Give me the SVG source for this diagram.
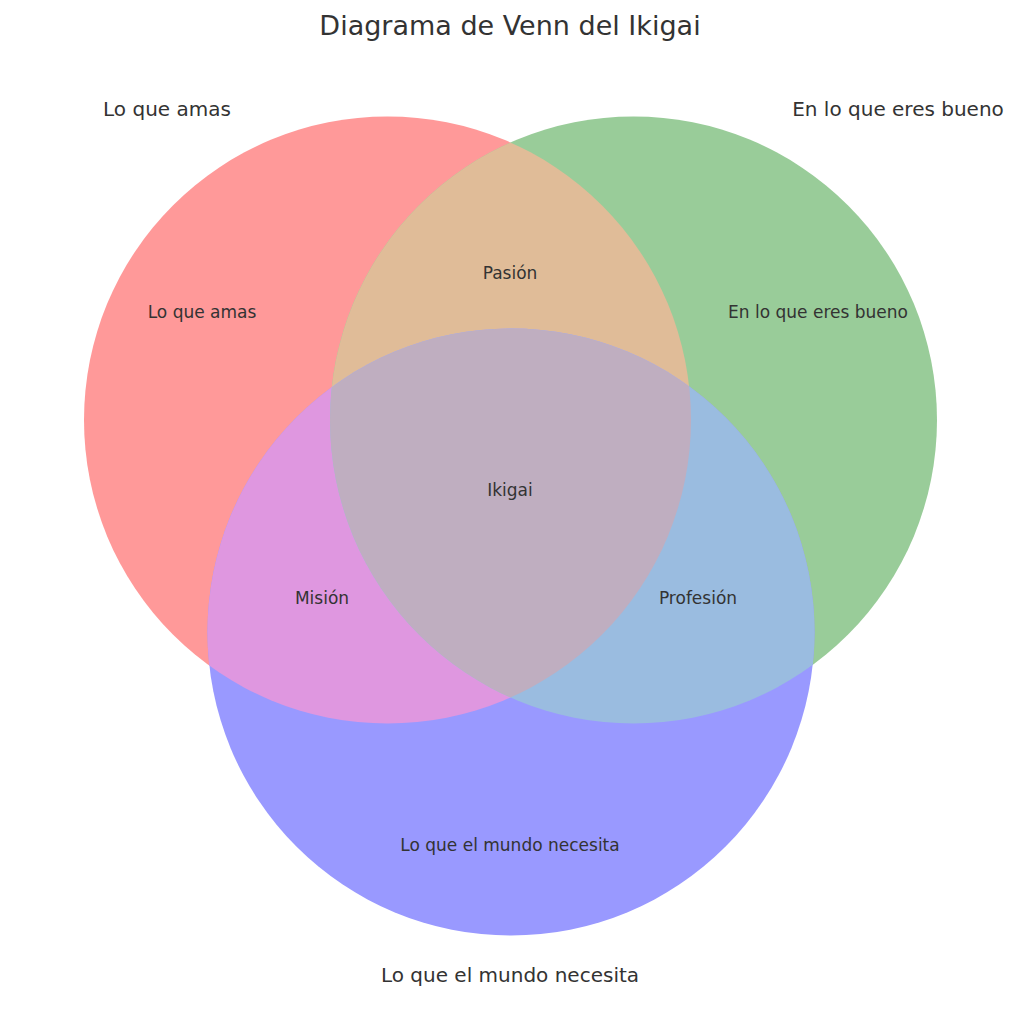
<svg xmlns="http://www.w3.org/2000/svg" width="1024" height="1020" viewBox="0 0 1024 1020">
<style>
text{font-family:"DejaVu Sans",sans-serif;fill:#333;text-anchor:middle;dominant-baseline:central}
.t{font-size:27px}.l{font-size:20px}.s{font-size:17px}
</style>
<defs>
<clipPath id="cr"><circle cx="387.5" cy="420" r="303.5"/></clipPath>
<clipPath id="cg"><circle cx="633.5" cy="420" r="303.5"/></clipPath>
</defs>
<rect width="1024" height="1020" fill="#fff"/>
<g id="circles">
<circle id="red" cx="387.5" cy="420" r="303.5" fill="#ff9999"/>
<circle id="green" cx="633.5" cy="420" r="303.5" fill="#99cc99"/>
<circle id="blue" cx="511" cy="632" r="303.5" fill="#9999ff"/>
<g clip-path="url(#cr)"><circle cx="633.5" cy="420" r="303.5" fill="#e0bc98"/><circle cx="511" cy="632" r="303.5" fill="#df97e0"/></g>
<g clip-path="url(#cg)"><circle cx="511" cy="632" r="303.5" fill="#9abce0"/></g>
<g clip-path="url(#cr)"><g clip-path="url(#cg)"><circle cx="511" cy="632" r="303.5" fill="#bfaec0"/></g></g>
</g>
<text class="t" x="510" y="25">Diagrama de Venn del Ikigai</text>
<text class="l" x="167" y="109">Lo que amas</text>
<text class="l" x="898" y="109">En lo que eres bueno</text>
<text class="l" x="510" y="975">Lo que el mundo necesita</text>
<text class="s" x="202" y="312">Lo que amas</text>
<text class="s" x="818" y="312">En lo que eres bueno</text>
<text class="s" x="510" y="273">Pasión</text>
<text class="s" x="510" y="490">Ikigai</text>
<text class="s" x="322" y="598">Misión</text>
<text class="s" x="698" y="598">Profesión</text>
<text class="s" x="510" y="845">Lo que el mundo necesita</text>
</svg>
